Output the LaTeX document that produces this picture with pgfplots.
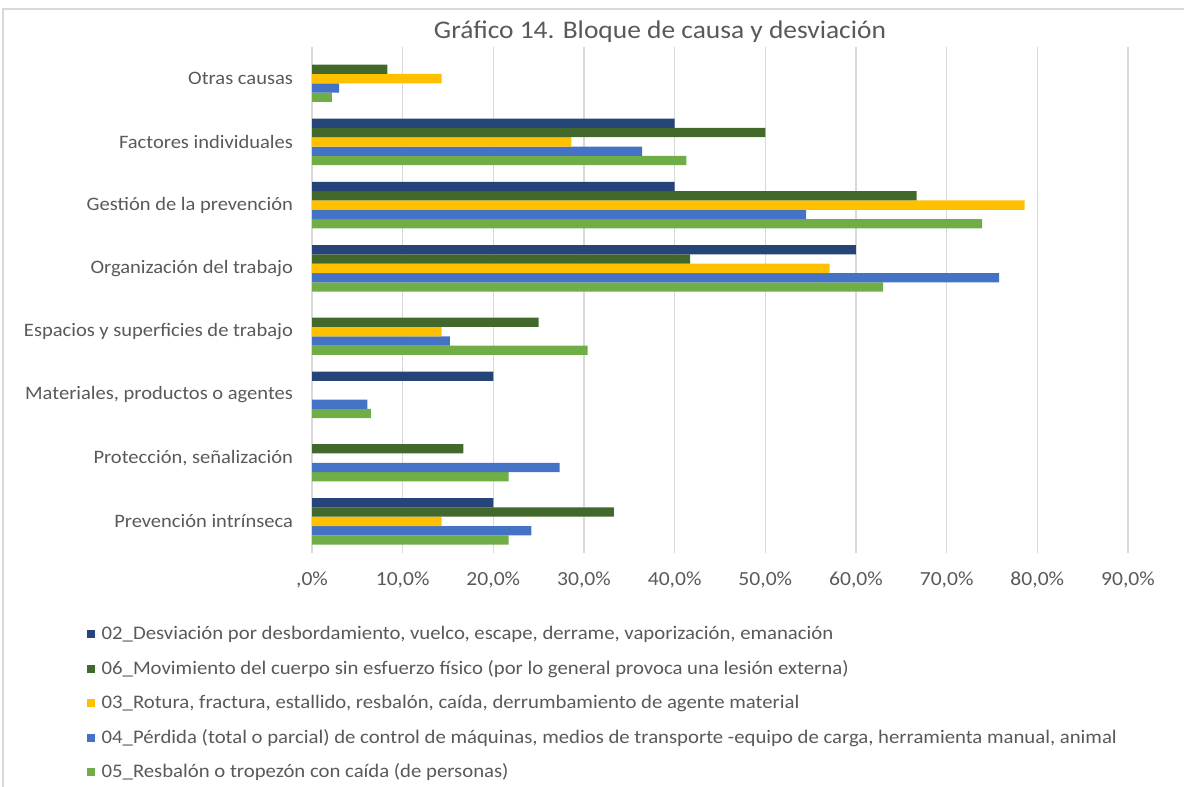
\documentclass[border=0pt]{standalone}
\usepackage{pgfplots}
\pgfplotsset{compat=1.18}
\usepackage{fontspec}
\setmainfont{Carlito}[FakeStretch=1.08]

\definecolor{cnavy}{HTML}{264478}
\definecolor{cdgreen}{HTML}{43682B}
\definecolor{cyellow}{HTML}{FFC000}
\definecolor{cblue}{HTML}{4472C4}
\definecolor{cgreen}{HTML}{70AD47}
\definecolor{txt}{HTML}{595959}
\definecolor{gridc}{HTML}{D9D9D9}

\begin{document}
\begin{tikzpicture}
\useasboundingbox (0,0) rectangle (592pt,-393.5pt);
\draw[gridc, line width=0.8pt] (1.5pt,-4.5pt) rectangle (600pt,-400pt);
\node[text=txt, font=\fontsize{12.7}{14}\selectfont] at (330pt,-16pt)
  {Gráfico 14. Bloque de causa y desviación};
\begin{axis}[
    at={(156pt,-276.5pt)}, anchor=south west,
    scale only axis, width=408pt, height=253pt,
    xbar=0pt, bar width=4.65pt,
    xmin=0, xmax=90, ymin=-0.5, ymax=7.5,
    axis line style={draw=none},
    major tick length=0pt,
    xmajorgrids, major grid style={gridc, line width=0.6pt},
    xtick={0,10,...,90},
    xticklabels={{,0\%},{10,0\%},{20,0\%},{30,0\%},{40,0\%},{50,0\%},{60,0\%},{70,0\%},{80,0\%},{90,0\%}},
    ytick={0,...,7},
    yticklabels={Prevención intrínseca,{Protección, señalización},{Materiales, productos o agentes},
      Espacios y superficies de trabajo,Organización del trabajo,Gestión de la prevención,
      Factores individuales,Otras causas},
    tick label style={text=txt, font=\fontsize{9.5}{11}\selectfont},
    xticklabel style={yshift=-6pt, font=\fontsize{10}{11}\selectfont},
    yticklabel style={xshift=-6pt},
    legend style={at={(-0.284,-0.128)}, anchor=north west, draw=none, fill=none,
      font=\fontsize{9.6}{11}\selectfont, text=txt, row sep=4.85pt},
    legend cell align=left,
    reverse legend,
    legend image code/.code={\fill[#1] (0pt,-2pt) rectangle (4pt,2pt); \path (0pt,0pt) -- (5.5pt,0pt);},
]
\addplot[fill=cgreen, draw=none] coordinates {
  (21.7,0) (21.7,1) (6.5,2) (30.4,3) (63.0,4) (73.9,5) (41.3,6) (2.2,7)};
\addlegendentry{05\_Resbalón o tropezón con caída (de personas)}
\addplot[fill=cblue, draw=none] coordinates {
  (24.2,0) (27.3,1) (6.1,2) (15.2,3) (75.8,4) (54.5,5) (36.4,6) (3.0,7)};
\addlegendentry{04\_Pérdida (total o parcial) de control de máquinas, medios de transporte -equipo de carga, herramienta manual, animal}
\addplot[fill=cyellow, draw=none] coordinates {
  (14.3,0) (14.3,3) (57.1,4) (78.6,5) (28.6,6) (14.3,7)};
\addlegendentry{03\_Rotura, fractura, estallido, resbalón, caída, derrumbamiento de agente material}
\addplot[fill=cdgreen, draw=none] coordinates {
  (33.3,0) (16.7,1) (25.0,3) (41.7,4) (66.7,5) (50.0,6) (8.3,7)};
\addlegendentry{06\_Movimiento del cuerpo sin esfuerzo físico (por lo general provoca una lesión externa)}
\addplot[fill=cnavy, draw=none] coordinates {
  (20.0,0) (20.0,2) (60.0,4) (40.0,5) (40.0,6)};
\addlegendentry{02\_Desviación por desbordamiento, vuelco, escape, derrame, vaporización, emanación}
\end{axis}
\end{tikzpicture}
\end{document}
